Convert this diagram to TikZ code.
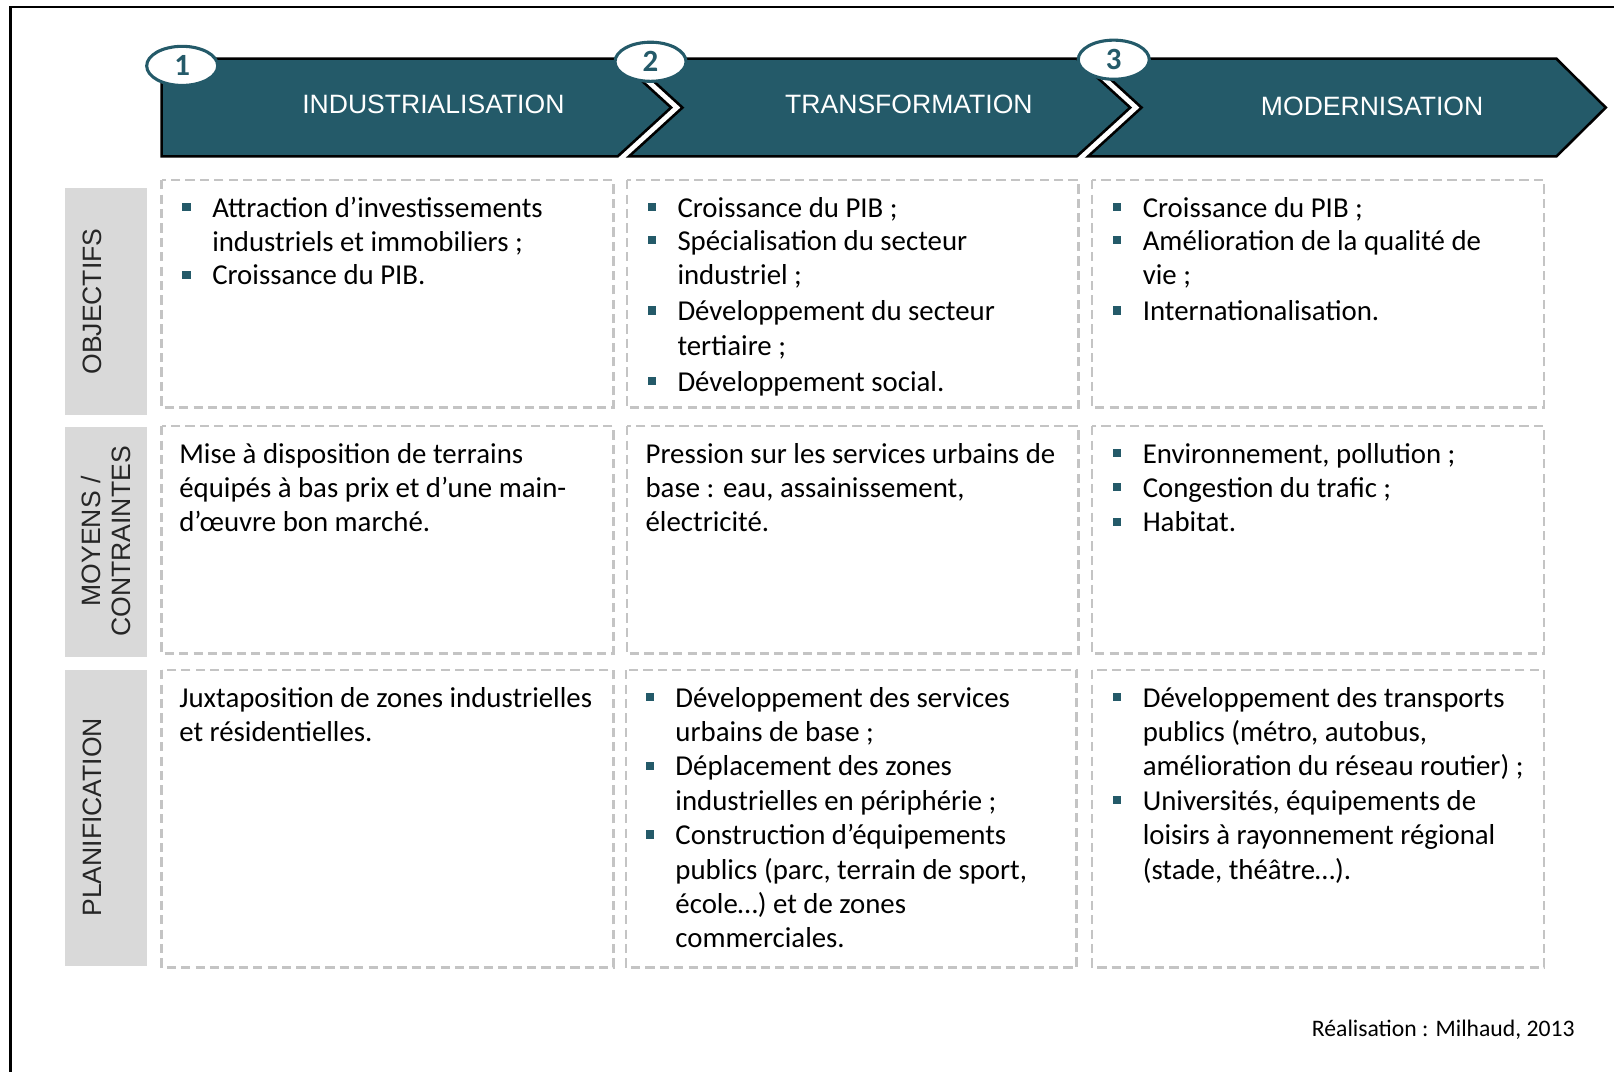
\documentclass[tikz,border=0pt]{standalone}
\usepackage{fontspec}
\setmainfont{Carlito}
\newfontfamily\arialfont{Liberation Sans}
\usetikzlibrary{shapes.geometric}
\definecolor{teal1}{HTML}{245A69}
\definecolor{cellgray}{HTML}{C4C4C4}
\definecolor{labelgray}{HTML}{D9D9D9}
\newcommand\bul{\makebox[29pt][l]{\textcolor{teal1}{\rule[6pt]{8pt}{8pt}}}}
\newcommand\ind{\hspace*{29pt}}
\newcommand\cellfont{\fontsize{28}{33.4}\selectfont}
\begin{document}
\begin{tikzpicture}[x=1pt,y=-1pt,
  seg/.style={fill=teal1,draw=black,line width=2.5pt,line join=miter},
  num/.style={ellipse,draw=teal1,line width=3pt,fill=white,minimum width=69pt,minimum height=38pt,inner sep=0pt,text=teal1,font=\fontsize{30}{32}\selectfont\bfseries},
  head/.style={text=white,font=\arialfont\fontsize{25.8}{30}\selectfont,inner sep=0pt},
  labbox/.style={fill=labelgray},
  labtext/.style={rotate=90,font=\arialfont\fontsize{25.8}{30}\selectfont,align=center,inner sep=0pt,text=black!85},
  cell/.style={draw=cellgray,line width=2.5pt,dash pattern=on 9pt off 5pt},
  ctext/.style={anchor=base west,inner sep=0pt,font=\cellfont}
]
\useasboundingbox (0,0) rectangle (1568,1041);
% frame
\draw[line width=2.5pt] (10,1041) -- (10,7) -- (1568,7);
% banner segments
\draw[seg] (157,57) -- (600,57) -- (652,104.5) -- (600,152) -- (157,152) -- cycle;
\draw[seg] (611,57) -- (1046,57) -- (1098,104.5) -- (1046,152) -- (611,152) -- (663,104.5) -- cycle;
\draw[seg] (1057,57) -- (1512,57) -- (1560,104.5) -- (1512,152) -- (1057,152) -- (1109,104.5) -- cycle;
\node[head] (h1) at (421,101) {INDUSTRIALISATION};
\node[head] (h2) at (883,101) {TRANSFORMATION};
\node[head] (h3) at (1333,103) {MODERNISATION};
\node[num] (c1) at (177,64) {1};
\node[num] (c2) at (632,60) {2};
\node[num] (c3) at (1082,58) {3};
% row labels
\fill[labbox] (63,183) rectangle (143,403);
\fill[labbox] (63,415) rectangle (143,638);
\fill[labbox] (63,651) rectangle (143,938);
\node[labtext] (l1) at (90,293) {OBJECTIFS};
\node[labtext] (l2) at (103,526) {MOYENS /\\CONTRAINTES};
\node[labtext] (l3) at (90,794) {PLANIFICATION};
% cells
\draw[cell] (157,175) rectangle (596,396);
\draw[cell] (609,175) rectangle (1048,396);
\draw[cell] (1061,175) rectangle (1500,396);
\draw[cell] (157,414) rectangle (596,635);
\draw[cell] (609,414) rectangle (1048,635);
\draw[cell] (1061,414) rectangle (1500,635);
\draw[cell] (157,651) rectangle (596,940);
\draw[cell] (608,651) rectangle (1046,940);
\draw[cell] (1061,651) rectangle (1500,940);
% row 1
\node[ctext] (t11) at (177,211) {\begin{tabular}[t]{@{}l@{}}\bul Attraction d’investissements\\ \ind industriels et immobiliers ;\\[-1pt] \bul Croissance du PIB.\end{tabular}};
\node[ctext] (t12) at (629,211) {\begin{tabular}[t]{@{}l@{}}\bul Croissance du PIB ;\\[-1pt] \bul Spécialisation du secteur\\ \ind industriel ;\\[1.5pt] \bul Développement du secteur\\ \ind tertiaire ;\\[1.5pt] \bul Développement social.\end{tabular}};
\node[ctext] (t13) at (1081,211) {\begin{tabular}[t]{@{}l@{}}\bul Croissance du PIB ;\\[-1pt] \bul Amélioration de la qualité de\\ \ind vie ;\\[1.5pt] \bul Internationalisation.\end{tabular}};
% row 2
\node[ctext] (t21) at (174,450) {\begin{tabular}[t]{@{}l@{}}Mise à disposition de terrains\\ équipés à bas prix et d’une main-\\ d’œuvre bon marché.\end{tabular}};
\node[ctext] (t22) at (627,450) {\begin{tabular}[t]{@{}l@{}}Pression sur les services urbains de\\ base : eau, assainissement,\\ électricité.\end{tabular}};
\node[ctext] (t23) at (1081,450) {\begin{tabular}[t]{@{}l@{}}\bul Environnement, pollution ;\\ \bul Congestion du trafic ;\\ \bul Habitat.\end{tabular}};
% row 3
\node[ctext] (t31) at (174,687) {\begin{tabular}[t]{@{}l@{}}Juxtaposition de zones industrielles\\ et résidentielles.\end{tabular}};
\node[ctext] (t32) at (627,687) {\begin{tabular}[t]{@{}l@{}}\bul Développement des services\\ \ind urbains de base ;\\ \bul Déplacement des zones\\ \ind industrielles en périphérie ;\\ \bul Construction d’équipements\\ \ind publics (parc, terrain de sport,\\ \ind école…) et de zones\\ \ind commerciales.\end{tabular}};
\node[ctext] (t33) at (1081,687) {\begin{tabular}[t]{@{}l@{}}\bul Développement des transports\\ \ind publics (métro, autobus,\\ \ind amélioration du réseau routier) ;\\ \bul Universités, équipements de\\ \ind loisirs à rayonnement régional\\ \ind (stade, théâtre…).\end{tabular}};
% credit
\node[anchor=base east,inner sep=0pt,font=\fontsize{23}{28}\selectfont] (credit) at (1530,1007) {Réalisation : Milhaud, 2013};
\end{tikzpicture}
\end{document}
